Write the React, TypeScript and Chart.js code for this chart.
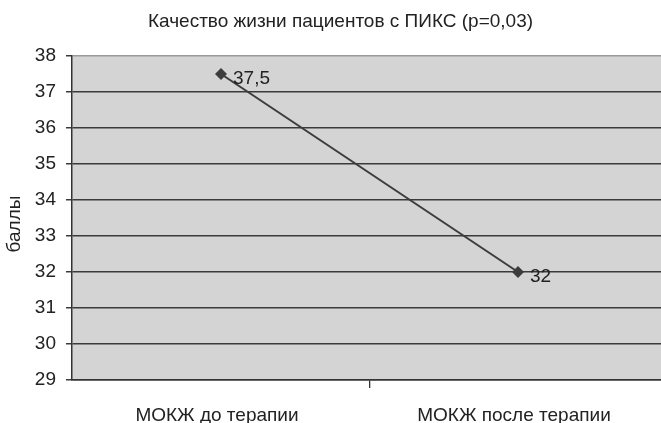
import React, { useEffect, useRef } from "react";
import { Chart, registerables } from "chart.js";

Chart.register(...registerables);

const titleText = "Качество жизни пациентов с ПИКС (p=0,03)";
const yTitle = "баллы";
const categories = ["МОКЖ до терапии", "МОКЖ после терапии"];
const values = [37.5, 32];
const valueLabels = ["37,5", "32"];
const yMin = 29;
const yMax = 38;
const yStep = 1;

const FONT = "'Liberation Sans', Arial, Helvetica, sans-serif";

const plotBg = {
  id: "plotBg",
  beforeDraw(chart: any) {
    const { ctx, chartArea } = chart;
    ctx.save();
    ctx.fillStyle = "#d4d4d4";
    ctx.fillRect(chartArea.left, chartArea.top, chartArea.right - chartArea.left, chartArea.bottom - chartArea.top);
    ctx.restore();
  },
};

const textPlugin = {
  id: "texts",
  afterDraw(chart: any) {
    const { ctx, chartArea } = chart;
    ctx.save();
    ctx.fillStyle = "#222";
    ctx.font = `19px ${FONT}`;
    ctx.textAlign = "center";
    ctx.textBaseline = "middle";
    ctx.fillText(titleText, 340.5, 21.5);
    ctx.translate(15, (chartArea.top + chartArea.bottom) / 2 + 6);
    ctx.rotate(-Math.PI / 2);
    ctx.fillText(yTitle, 0, 0);
    ctx.restore();
  },
};

const valueLabelPlugin = {
  id: "valueLabels",
  afterDatasetsDraw(chart: any) {
    const { ctx } = chart;
    const meta = chart.getDatasetMeta(0);
    ctx.save();
    ctx.font = `19px ${FONT}`;
    ctx.fillStyle = "#222";
    ctx.textAlign = "left";
    ctx.textBaseline = "middle";
    meta.data.forEach((pt: any, i: number) => {
      ctx.fillText(valueLabels[i], pt.x + 12, pt.y + 5);
    });
    ctx.restore();
  },
};

export default function App() {
  const ref = useRef<HTMLCanvasElement>(null);
  useEffect(() => {
    if (!ref.current) return;
    const chart = new Chart(ref.current, {
      type: "line",
      data: {
        datasets: [
          {
            data: values.map((v, i) => ({ x: i, y: v })),
            borderColor: "#3c3c3c",
            backgroundColor: "#3c3c3c",
            borderWidth: 2,
            pointStyle: "rectRot",
            pointRadius: 6,
            pointBorderWidth: 0,
            pointBackgroundColor: "#3c3c3c",
            tension: 0,
            clip: false,
          },
        ],
      },
      options: {
        animation: false,
        responsive: false,
        layout: { autoPadding: false, padding: { top: 56, left: 0, right: 0, bottom: 0 } },
        plugins: {
          legend: { display: false },
          tooltip: { enabled: false },
          title: { display: false },
        },
        scales: {
          x: {
            type: "linear",
            min: -0.5017,
            max: 1.4815,
            afterBuildTicks(scale: any) {
              scale.ticks = [{ value: 0 }, { value: 0.5 }, { value: 1 }];
            },
            afterFit(scale: any) {
              scale.height = 43;
              scale.paddingLeft = 0;
              scale.paddingRight = 0;
            },
            ticks: {
              autoSkip: false,
              maxRotation: 0,
              padding: 16,
              labelOffset: -4,
              color: "#222",
              font: { family: FONT, size: 19 },
              callback: (v: any) => (Number.isInteger(v) ? categories[v] : ""),
            },
            grid: {
              drawOnChartArea: false,
              drawTicks: true,
              tickLength: 8,
              tickColor: (c: any) => (c.tick && c.tick.value === 0.5 ? "#333" : "rgba(0,0,0,0)"),
              lineWidth: 1.3,
            },
            border: { display: true, color: "#333", width: 1.5 },
          },
          y: {
            min: yMin,
            max: yMax,
            afterFit(scale: any) {
              scale.width = 72;
              scale.paddingTop = 0;
              scale.paddingBottom = 0;
            },
            ticks: {
              stepSize: yStep,
              padding: 10,
              color: "#222",
              font: { family: FONT, size: 19 },
            },
            grid: {
              color: (c: any) => (c.tick && c.tick.value === yMax ? "#9a9a9a" : "#3a3a3a"),
              tickColor: "#3a3a3a",
              lineWidth: 1.5,
              tickLength: 6,
            },
            border: { display: true, color: "#333", width: 1.5 },
          },
        },
      },
      plugins: [plotBg, valueLabelPlugin, textPlugin],
    });
    return () => chart.destroy();
  }, []);
  return (
    <div style={{ position: "fixed", left: 0, top: 0, width: 661, height: 423, background: "#fff" }}>
      <canvas ref={ref} width={661} height={423} style={{ display: "block" }} />
    </div>
  );
}
